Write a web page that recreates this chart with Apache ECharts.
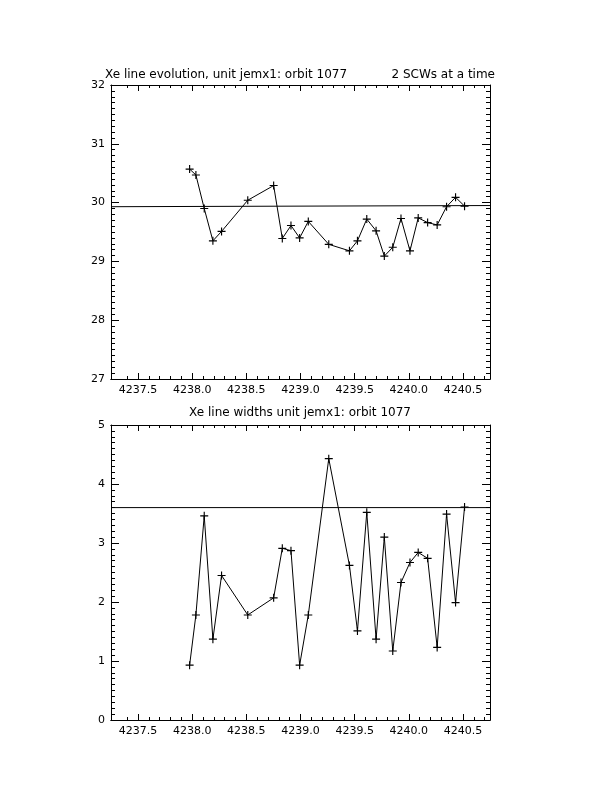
<!DOCTYPE html>
<html><head><meta charset="utf-8">
<script src="https://cdn.jsdelivr.net/npm/echarts@6/dist/echarts.min.js"></script>
<style>html,body{margin:0;padding:0;background:#fff}#c{width:612px;height:792px}</style>
</head><body><div id="c"></div>
<script>
// ---- data ----
const times = [4237.976,4238.034,4238.111,4238.191,4238.271,4238.513,4238.752,4238.832,4238.912,4238.992,
  4239.072,4239.261,4239.452,4239.526,4239.612,4239.698,4239.774,4239.852,4239.928,4240.011,
  4240.087,4240.174,4240.262,4240.349,4240.432,4240.515];
const energies = [30.57,30.47,29.90,29.35,29.51,30.04,30.29,29.39,29.61,29.40,
  29.68,29.29,29.18,29.35,29.72,29.52,29.09,29.24,29.73,29.18,
  29.74,29.66,29.62,29.93,30.09,29.94];
const widths = [0.93,1.78,3.46,1.37,2.45,1.78,2.07,2.91,2.87,0.93,
  1.78,4.43,2.62,1.51,3.52,1.37,3.10,1.17,2.33,2.67,
  2.84,2.74,1.23,3.49,1.99,3.61];
const energyMeanLine = [29.93, 29.95];
const widthMeanLine = [3.60, 3.60];
const xRange = [4237.25, 4240.75];
const xTickLabels = [4237.5, 4238.0, 4238.5, 4239.0, 4239.5, 4240.0, 4240.5];
const title1 = 'Xe line evolution, unit jemx1: orbit 1077';
const title1b = '2 SCWs at a time';
const title2 = 'Xe line widths unit jemx1: orbit 1077';

// ---- chart ----
const font = 'DejaVu Sans';
const minorX = [];
for (let i = Math.round(xRange[0]*10)+1; i < Math.round(xRange[1]*10); i++) minorX.push(i/10);

const grids = [
  {left: 111, top: 85, width: 379, height: 294},
  {left: 111, top: 425, width: 379, height: 295}
];
const xAxes = [], yAxes = [];
function addX(gi, pos, showLabel, values, len) {
  xAxes.push({
    type: 'value', gridIndex: gi, position: pos, min: xRange[0], max: xRange[1],
    axisLine: {show: true, onZero: false, lineStyle: {color: '#000', width: 1}},
    axisTick: {show: true, inside: true, length: len, customValues: values, lineStyle: {color: '#000', width: 1}},
    axisLabel: {show: showLabel, customValues: xTickLabels, color: '#000', fontFamily: font, fontSize: 11, margin: 6,
      formatter: v => v.toFixed(1)},
    splitLine: {show: false}
  });
}
function addY(gi, pos, showLabel, min, max) {
  yAxes.push({
    type: 'value', gridIndex: gi, position: pos, min: min, max: max, interval: 1,
    axisLine: {show: true, onZero: false, lineStyle: {color: '#000', width: 1}},
    axisTick: {show: true, inside: true, length: 8, lineStyle: {color: '#000', width: 1}},
    minorTick: {show: true, splitNumber: 10, length: 4, lineStyle: {color: '#000', width: 1}},
    axisLabel: {show: showLabel, color: '#000', fontFamily: font, fontSize: 11, margin: 6},
    splitLine: {show: false}, minorSplitLine: {show: false}
  });
}
for (let g = 0; g < 2; g++) {
  addX(g, 'bottom', true, xTickLabels, 6);
  addX(g, 'bottom', false, minorX, 3);
  addX(g, 'top', false, xTickLabels, 6);
  addX(g, 'top', false, minorX, 3);
}
addY(0, 'left', true, 27, 32);
addY(0, 'right', false, 27, 32);
addY(1, 'left', true, 0, 5);
addY(1, 'right', false, 0, 5);

const plus = 'path://M0,3L3,3L3,0L4,0L4,3L7,3L7,4L4,4L4,7L3,7L3,4L0,4Z';
function lineSeries(xi, yi, ys) {
  return {
    type: 'line', xAxisIndex: xi, yAxisIndex: yi, data: times.map((t, i) => [t, ys[i]]),
    symbol: plus, symbolSize: 8, showSymbol: true, animation: false,
    lineStyle: {color: '#000', width: 1}, itemStyle: {color: '#000'}
  };
}
function meanSeries(xi, yi, vals) {
  return {
    type: 'line', xAxisIndex: xi, yAxisIndex: yi, data: [[xRange[0], vals[0]], [xRange[1], vals[1]]],
    symbol: 'none', animation: false, lineStyle: {color: '#000', width: 1}
  };
}

const chart = echarts.init(document.getElementById('c'), null, {renderer: 'canvas'});
const ts = {fontFamily: font, fontSize: 12, fontWeight: 'normal', color: '#000'};
chart.setOption({
  backgroundColor: '#fff',
  animation: false,
  title: [
    {text: title1, left: 105, top: 69, padding: 0, textStyle: ts},
    {text: title1b, right: 117, top: 69, padding: 0, textStyle: ts},
    {text: title2, left: 300, textAlign: 'center', top: 407, padding: 0, textStyle: ts}
  ],
  grid: grids,
  xAxis: xAxes,
  yAxis: yAxes,
  series: [
    lineSeries(0, 0, energies),
    meanSeries(0, 0, energyMeanLine),
    lineSeries(4, 2, widths),
    meanSeries(4, 2, widthMeanLine)
  ]
});
</script></body></html>
